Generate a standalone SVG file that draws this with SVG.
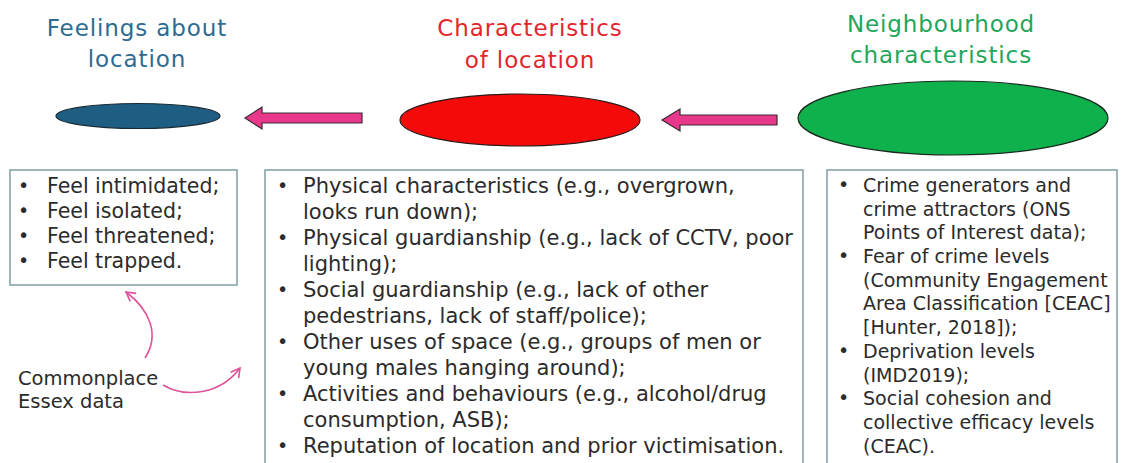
<svg xmlns="http://www.w3.org/2000/svg" width="1121" height="463" viewBox="0 0 1121 463">
<style>
.title{font-family:"DejaVu Sans","Liberation Sans",sans-serif;font-size:23px;letter-spacing:0.9px;text-anchor:middle}
.body{font-family:"DejaVu Sans","Liberation Sans",sans-serif;fill:#2b2b2b}
.b1{font-size:20.5px}
.b2{font-size:21px}
.b3{font-size:19px}
.dot{font-size:19px}
.box{fill:#ffffff;stroke:#7f9ea3;stroke-width:1.5}
.arrow{fill:#e8388c;stroke:#3a2a30;stroke-width:1.2}
.curve{fill:none;stroke:#e0529a;stroke-width:1.6}
</style>
<defs>
<marker id="open" viewBox="0 0 12 12" refX="10" refY="6" markerWidth="12" markerHeight="12" markerUnits="userSpaceOnUse" orient="auto">
<path d="M1,1 L10,6 L1,11" fill="none" stroke="#e0529a" stroke-width="1.6"/>
</marker>
</defs>
<rect width="1121" height="463" fill="#ffffff"/>

<g id="feelings">
<text class="title" x="137" y="36" fill="#2e6b93">Feelings about</text>
<text class="title" x="137" y="67" fill="#2e6b93">location</text>
<ellipse cx="138" cy="116" rx="82" ry="12.5" fill="#1d5e82" stroke="#1a2a33" stroke-width="1.2"/>
</g>

<g id="characteristics">
<text class="title" x="530" y="36" fill="#e3262b">Characteristics</text>
<text class="title" x="530" y="68" fill="#e3262b">of location</text>
<ellipse cx="520" cy="120" rx="120" ry="26" fill="#f50a0a" stroke="#2a1a1a" stroke-width="1.2"/>
</g>

<g id="neighbourhood">
<text class="title" x="941" y="32" fill="#22a65a">Neighbourhood</text>
<text class="title" x="941" y="63" fill="#22a65a">characteristics</text>
<ellipse cx="953" cy="118" rx="155" ry="37" fill="#0fb14c" stroke="#1a2a1f" stroke-width="1.2"/>
</g>

<g id="connectors">
<polygon class="arrow" points="245,118 262,107 262,113 362,113 362,123 262,123 262,129"/>
<polygon class="arrow" points="662,120 680,109 680,115 777,115 777,125 680,125 680,131"/>
<path class="curve" d="M145,358 C160,335 150,310 126,292" marker-end="url(#open)"/>
<path class="curve" d="M163,385 C185,398 220,395 240,368" marker-end="url(#open)"/>
</g>

<g id="feelings-box">
<rect class="box" x="10" y="170" width="227" height="115"/>
<g class="body b1">
<text class="dot" x="18" y="192">•</text><text x="47" y="193">Feel intimidated;</text>
<text class="dot" x="18" y="217">•</text><text x="47" y="218">Feel isolated;</text>
<text class="dot" x="18" y="242">•</text><text x="47" y="243">Feel threatened;</text>
<text class="dot" x="18" y="267">•</text><text x="47" y="268">Feel trapped.</text>
</g>
</g>

<g id="characteristics-box">
<rect class="box" x="265" y="170" width="538" height="300"/>
<g class="body b2">
<text class="dot" x="277" y="192">•</text><text x="303" y="193">Physical characteristics (e.g., overgrown,</text>
<text x="303" y="219">looks run down);</text>
<text class="dot" x="277" y="244">•</text><text x="303" y="245">Physical guardianship (e.g., lack of CCTV, poor</text>
<text x="303" y="271">lighting);</text>
<text class="dot" x="277" y="296">•</text><text x="303" y="297">Social guardianship (e.g., lack of other</text>
<text x="303" y="323">pedestrians, lack of staff/police);</text>
<text class="dot" x="277" y="348">•</text><text x="303" y="349">Other uses of space (e.g., groups of men or</text>
<text x="303" y="375">young males hanging around);</text>
<text class="dot" x="277" y="400">•</text><text x="303" y="401">Activities and behaviours (e.g., alcohol/drug</text>
<text x="303" y="427">consumption, ASB);</text>
<text class="dot" x="277" y="452">•</text><text x="303" y="453">Reputation of location and prior victimisation.</text>
</g>
</g>

<g id="neighbourhood-box">
<rect class="box" x="827" y="170" width="290" height="300"/>
<g class="body b3">
<text class="dot" x="838" y="191">•</text><text x="863" y="192">Crime generators and</text>
<text x="863" y="216">crime attractors (ONS</text>
<text x="863" y="239">Points of Interest data);</text>
<text class="dot" x="838" y="262">•</text><text x="863" y="263">Fear of crime levels</text>
<text x="863" y="287">(Community Engagement</text>
<text x="863" y="310">Area Classification [CEAC]</text>
<text x="863" y="334">[Hunter, 2018]);</text>
<text class="dot" x="838" y="357">•</text><text x="863" y="358">Deprivation levels</text>
<text x="863" y="382">(IMD2019);</text>
<text class="dot" x="838" y="404">•</text><text x="863" y="405">Social cohesion and</text>
<text x="863" y="429">collective efficacy levels</text>
<text x="863" y="453">(CEAC).</text>
</g>
</g>

<g id="commonplace">
<text class="body" x="18" y="385" font-size="19.5">Commonplace</text>
<text class="body" x="18" y="408" font-size="19.5">Essex data</text>
</g>
</svg>
